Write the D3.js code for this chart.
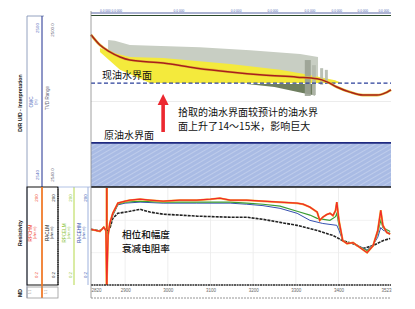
<!DOCTYPE html>
<html>
<head>
<meta charset="utf-8">
<script src="https://cdn.jsdelivr.net/npm/d3@7"></script>
<style>
  body { margin: 0; background: #fff; }
  svg { display: block; font-family: "Liberation Sans", Arial, sans-serif; }
  .cjk { font-family: "Noto Sans CJK SC", sans-serif; }
</style>
</head>
<body>
<div id="chart"></div>
<script>
// depth ticks (MD, m)
const depthTicks = [2820, 2900, 3000, 3100, 3200, 3300, 3400, 3523];
// positions of the small header labels (MD)
const headerMarks = [2867, 3026, 3160, 3246, 3333, 3396, 3457, 3506];

// well trajectory [MD, TVD]
const trajectory = [
  [2820, 2504.4], [2841, 2506.8], [2864, 2508.4], [2888, 2509.6], [2911, 2510.3],
  [2989, 2511.0], [3068, 2512.2], [3146, 2513.1], [3223, 2513.8], [3303, 2514.3],
  [3350, 2514.7], [3373, 2515.4], [3396, 2516.6], [3427, 2517.8], [3457, 2518.5],
  [3490, 2518.5], [3514, 2517.8], [3523, 2517.3]
];

const owcNow = 2515.7;
const owcOld = 2529.7;

// uncertainty band (gray) outline
const grayBand = [
  [2860, 2505.6], [2876, 2505.8], [2911, 2506.8], [3075, 2507.3], [3193, 2508.0],
  [3310, 2508.9], [3352, 2509.6], [3352, 2515.7], [2958, 2515.7], [2860, 2508.2]
];
// oil zone (yellow) outline
const oilZone = [
  [2841, 2507.5], [2864, 2508.4], [2911, 2509.6], [2989, 2509.8], [3146, 2511.2],
  [3263, 2512.6], [3333, 2513.8], [3392, 2515.0], [3408, 2515.7],
  [2958, 2515.7], [2888, 2512.6], [2841, 2508.4]
];
// darker band below the new OWC
const waterBand = [
  [3185, 2515.9], [3345, 2515.9], [3345, 2518.6], [3310, 2517.9], [3250, 2516.6]
];
// vertical bars [MD from, MD to, TVD top, TVD bottom]
const bars = [
  [3321, 3335, 2510.3, 2518.7],
  [3338, 3347, 2511.5, 2518.5],
  [3357, 3364, 2512.2, 2516.1],
  [3368, 3375, 2512.6, 2515.7]
];

// resistivity curves [MD, ohm.m]
const rpchm = [
  [2820,10.5],[2841,9.1],[2850,12.1],[2855,9.7],[2857,0.21],[2860,6.8],[2864,16],[2871,33],
  [2883,68],[2900,78],[2911,84],[2935,90],[2958,84],[2989,78],[3028,84],[3068,84],[3100,90],
  [3122,97],[3146,84],[3185,84],[3223,78],[3263,73],[3303,68],[3317,63],[3333,51],[3350,36],
  [3356,20],[3363,25],[3372,30],[3380,33],[3387,28],[3393,40],[3396,73],[3401,20],[3410,4.7],
  [3420,3.8],[3434,4.1],[3450,2.9],[3467,2.0],[3481,3.3],[3492,9.7],[3499,41],[3504,14],
  [3513,8.4],[3521,7.5]
];
const rpcelm = [
  [2820,10.5],[2841,9.1],[2850,12.1],[2855,9.7],[2860,7.5],[2864,15],[2871,30],[2883,63],
  [2900,73],[2935,78],[2989,73],[3068,73],[3146,73],[3185,68],[3223,63],[3263,55],[3303,38],
  [3333,29],[3350,23],[3380,20],[3393,26],[3396,33],[3401,14],[3410,4.7],[3420,3.9],[3434,4.1],
  [3450,3],[3467,2.3],[3481,3.3],[3492,8],[3499,20],[3504,12],[3521,9]
];
const racehm = [
  [2820,10.5],[2841,9.1],[2850,12.1],[2855,9.7],[2860,7.5],[2864,14],[2871,28],[2883,60],
  [2900,68],[2935,73],[2989,68],[3068,68],[3146,68],[3185,63],[3223,57],[3263,47],[3303,33],
  [3333,20],[3363,16],[3396,14],[3401,10],[3410,4.7],[3420,3.9],[3434,4.0],[3450,3.1],
  [3467,2.4],[3481,3.5],[3492,6],[3499,12],[3504,10],[3521,8]
];
const raclm = [
  [2820,10.5],[2841,9.5],[2850,12],[2857,9],[2864,11],[2871,23],[2883,33],[2911,38],[2935,44],
  [2958,36],[2989,31],[3028,29],[3068,27],[3146,25],[3185,25],[3223,21.5],[3263,17.3],
  [3303,14],[3350,9.7],[3387,6.8],[3410,4.7],[3434,3.8],[3457,2.7],[3481,3.3],[3504,4.7],
  [3521,5.5]
];
const markerMd = 2857;

const resHeaders = [
  {name: "RPCHM",  color: "#f0402a", x: 32},
  {name: "RACLM",  color: "#222",    x: 49},
  {name: "RPCELM", color: "#8cc43a", x: 66},
  {name: "RACEHM", color: "#3a55b0", x: 81}
];

const W = 415, H = 309;
const dim = {left: 91, right: 391, top: 16, owcBottom: 187, resTop: 188, resBottom: 285};

const svg = d3.select("#chart").append("svg")
  .attr("width", W).attr("height", H);

const defs = svg.append("defs");
const pat = defs.append("pattern").attr("id", "hatch")
  .attr("width", 4).attr("height", 4)
  .attr("patternUnits", "userSpaceOnUse")
  .attr("patternTransform", "rotate(60)");
pat.append("rect").attr("width", 4).attr("height", 4).attr("fill", "#a9bbe4");
pat.append("line").attr("x1", 0).attr("y1", 0).attr("x2", 0).attr("y2", 4)
  .attr("stroke", "#d3ddf3").attr("stroke-width", 1);

const x = d3.scaleLinear([2820, 3523], [dim.left, dim.right]);
const tvd = d3.scaleLinear([2500, 2540], [dim.top, dim.owcBottom]);
const res = d3.scaleLog([0.2, 200], [dim.resBottom, dim.resTop]);

// ---- top interpretation track ----
const interp = svg.append("g").attr("class", "interp");

interp.append("line")
  .attr("x1", dim.left).attr("x2", dim.right)
  .attr("y1", tvd(2520)).attr("y2", tvd(2520))
  .attr("stroke", "#e4e4e4").attr("stroke-width", 0.7);

const area = d3.line().x(d => x(d[0])).y(d => tvd(d[1])).curve(d3.curveLinearClosed);

interp.append("path").attr("d", area(grayBand)).attr("fill", "#c8cec3");
interp.append("path").attr("d", area(oilZone)).attr("fill", "#f4ea3c");
interp.append("path").attr("d", area(waterBand)).attr("fill", "#6e7e5f");
interp.selectAll("rect.bar").data(bars).join("rect")
  .attr("class", "bar")
  .attr("x", d => x(d[0])).attr("width", d => x(d[1]) - x(d[0]))
  .attr("y", d => tvd(d[2])).attr("height", d => tvd(d[3]) - tvd(d[2]))
  .attr("fill", (d, i) => i === 0 ? "#9aa294" : "#b3b9ad")
  .attr("opacity", 0.9);

// new OWC dashed
interp.append("line")
  .attr("x1", dim.left).attr("x2", dim.right)
  .attr("y1", tvd(owcNow)).attr("y2", tvd(owcNow))
  .attr("stroke", "#2a3f9a").attr("stroke-width", 1.4)
  .attr("stroke-dasharray", "4,2.5");

// trajectory
const traj = d3.line().x(d => x(d[0])).y(d => tvd(d[1])).curve(d3.curveMonotoneX);
interp.append("path").attr("d", traj(trajectory))
  .attr("fill", "none").attr("stroke", "#e8c23a").attr("stroke-width", 2.6);
interp.append("path").attr("d", traj(trajectory))
  .attr("fill", "none").attr("stroke", "#a8201c").attr("stroke-width", 1.5);

// original OWC and water zone
interp.append("rect")
  .attr("x", dim.left).attr("width", dim.right - dim.left)
  .attr("y", tvd(owcOld)).attr("height", tvd(2540) - tvd(owcOld))
  .attr("fill", "url(#hatch)");
interp.append("line")
  .attr("x1", dim.left).attr("x2", dim.right)
  .attr("y1", tvd(owcOld)).attr("y2", tvd(owcOld))
  .attr("stroke", "#1f2a80").attr("stroke-width", 1.8);
interp.append("line")
  .attr("x1", dim.left).attr("x2", dim.right)
  .attr("y1", tvd(2540)).attr("y2", tvd(2540))
  .attr("stroke", "#111").attr("stroke-width", 1.4);

// header lines over the track
interp.append("line").attr("x1", dim.left).attr("x2", dim.right)
  .attr("y1", 13).attr("y2", 13).attr("stroke", "#2c3e8c").attr("stroke-width", 0.8);
interp.append("line").attr("x1", dim.left).attr("x2", dim.right)
  .attr("y1", 15.5).attr("y2", 15.5).attr("stroke", "#2d4a2d").attr("stroke-width", 1.2);
interp.selectAll("text.hdr").data(headerMarks)
  .join("text").attr("class", "hdr")
  .attr("x", d => x(d)).attr("y", 12)
  .attr("text-anchor", "middle").attr("font-size", 3.2).attr("fill", "#4a5fb0")
  .text((d, i) => i === 0 ? "0.0 000 0.0 000" : "0.0 000");

// annotations
interp.append("text").attr("class", "cjk")
  .attr("x", 102).attr("y", tvd(owcNow) - 4.5)
  .attr("font-size", 10).attr("fill", "#111").text("现油水界面");
interp.append("text").attr("class", "cjk")
  .attr("x", 104).attr("y", tvd(owcOld) - 3.5)
  .attr("font-size", 10).attr("fill", "#111").text("原油水界面");

const arrowX = x(2989);
interp.append("rect").attr("x", arrowX - 1.8).attr("y", 103).attr("width", 3.6).attr("height", 29)
  .attr("fill", "#ec2830");
interp.append("path")
  .attr("d", `M${arrowX - 5.5},105 L${arrowX},94 L${arrowX + 5.5},105 Z`)
  .attr("fill", "#ec2830");

const noteLines = ["拾取的油水界面较预计的油水界", "面上升了14～15米，影响巨大"];
interp.selectAll("text.note").data(noteLines).join("text")
  .attr("class", "cjk note")
  .attr("x", 178).attr("y", (d, i) => 116 + i * 13.8)
  .attr("font-size", 10).attr("fill", "#111")
  .text(d => d);

// ---- resistivity track ----
const rt = svg.append("g").attr("class", "res");
rt.selectAll("line.vg").data(depthTicks.slice(1, -1)).join("line")
  .attr("class", "vg")
  .attr("x1", d => x(d)).attr("x2", d => x(d))
  .attr("y1", dim.resTop).attr("y2", dim.resBottom)
  .attr("stroke", "#e6e6e6").attr("stroke-width", 0.7);
rt.selectAll("line.hg").data([2, 20]).join("line")
  .attr("class", "hg")
  .attr("x1", dim.left).attr("x2", dim.right)
  .attr("y1", d => res(d)).attr("y2", d => res(d))
  .attr("stroke", "#ededed").attr("stroke-width", 0.7);

rt.append("line")
  .attr("x1", x(markerMd)).attr("x2", x(markerMd))
  .attr("y1", dim.resTop).attr("y2", dim.resBottom)
  .attr("stroke", "#f0a020").attr("stroke-width", 2.4);
rt.append("line")
  .attr("x1", x(markerMd)).attr("x2", x(markerMd))
  .attr("y1", dim.resTop).attr("y2", dim.resBottom)
  .attr("stroke", "#e8202a").attr("stroke-width", 1.2);

const resLine = d3.line().x(d => x(d[0])).y(d => res(d[1]));
rt.append("path").attr("d", resLine(raclm))
  .attr("fill", "none").attr("stroke", "#222").attr("stroke-width", 1.6)
  .attr("stroke-dasharray", "3,1");
rt.append("path").attr("d", resLine(racehm))
  .attr("fill", "none").attr("stroke", "#3550b0").attr("stroke-width", 1);
rt.append("path").attr("d", resLine(rpcelm))
  .attr("fill", "none").attr("stroke", "#3a9d32").attr("stroke-width", 1.1);
rt.append("path").attr("d", resLine(rpchm))
  .attr("fill", "none").attr("stroke", "#f5b030").attr("stroke-width", 2);
rt.append("path").attr("d", resLine(rpchm))
  .attr("fill", "none").attr("stroke", "#f02a2a").attr("stroke-width", 1.3);

const resNote = ["相位和幅度", "衰减电阻率"];
rt.selectAll("text.rnote").data(resNote).join("text")
  .attr("class", "cjk rnote")
  .attr("x", 122).attr("y", (d, i) => 238 + i * 13.8)
  .attr("font-size", 9.6).attr("fill", "#111").attr("font-weight", 500)
  .text(d => d);

rt.append("line").attr("x1", dim.left).attr("x2", dim.right)
  .attr("y1", dim.resBottom).attr("y2", dim.resBottom)
  .attr("stroke", "#2a2a2a").attr("stroke-width", 1.3).attr("stroke-dasharray", "2,0.6");

// depth axis
const axis = svg.append("g")
  .attr("transform", `translate(0 ${dim.resBottom})`)
  .call(d3.axisBottom(x).tickValues(depthTicks).tickSize(0).tickPadding(4).tickFormat(d3.format("d")));
axis.select(".domain").remove();
axis.selectAll("text").attr("font-size", 4.5).attr("fill", "#666")
  .attr("font-family", "Liberation Sans, Arial, sans-serif")
  .attr("text-anchor", (d, i) => i === 0 ? "start" : i === depthTicks.length - 1 ? "end" : "middle");
svg.append("line").attr("x1", dim.left).attr("x2", dim.right)
  .attr("y1", 298).attr("y2", 298)
  .attr("stroke", "#888").attr("stroke-width", 0.9).attr("stroke-dasharray", "2,1");

// left frame of track
svg.append("line").attr("x1", dim.left).attr("x2", dim.left)
  .attr("y1", 11).attr("y2", 298).attr("stroke", "#888").attr("stroke-width", 0.8);

// ---- left header panel ----
const hp = svg.append("g").attr("class", "header");
function vtext(xp, yp, txt, size, color, weight) {
  hp.append("text")
    .attr("transform", `translate(${xp} ${yp}) rotate(-90)`)
    .attr("text-anchor", "middle").attr("font-size", size)
    .attr("fill", color).attr("font-weight", weight || "normal")
    .text(txt);
}
// interpretation header
hp.append("line").attr("x1", 27).attr("x2", 27).attr("y1", 16).attr("y2", 298).attr("stroke", "#7a8ab0").attr("stroke-width", 0.8);
hp.append("line").attr("x1", 27).attr("x2", 44).attr("y1", 16).attr("y2", 16).attr("stroke", "#7a8ab0").attr("stroke-width", 0.8);
hp.append("line").attr("x1", 42).attr("x2", 42).attr("y1", 16).attr("y2", 187).attr("stroke", "#1f2f90").attr("stroke-width", 1);
vtext(22, 103, "D/R U/D - Interpretation", 5.2, "#111", "bold");
vtext(33, 102, "OWC", 4.6, "#5a70c0");
vtext(37, 102, "(m)", 3.6, "#5a70c0");
vtext(38.5, 28, "2500", 4.4, "#5a70c0");
vtext(38.5, 175, "2540", 4.4, "#5a70c0");
vtext(49, 98, "TVD Range", 4.6, "#667");
vtext(54, 30, "2500.0", 4.4, "#667");
vtext(54, 175, "2540.0", 4.4, "#667");

// resistivity header
hp.append("rect").attr("x", 27).attr("y", 187).attr("width", 31).attr("height", 98)
  .attr("fill", "none").attr("stroke", "#111").attr("stroke-width", 1);
hp.append("line").attr("x1", 58).attr("x2", 58).attr("y1", 187).attr("y2", 285)
  .attr("stroke", "#111").attr("stroke-width", 1.2).attr("stroke-dasharray", "1.2,1");
hp.append("line").attr("x1", 42).attr("x2", 42).attr("y1", 187).attr("y2", 298)
  .attr("stroke", "#f0a020").attr("stroke-width", 1.6);
hp.append("line").attr("x1", 42).attr("x2", 42).attr("y1", 187).attr("y2", 298)
  .attr("stroke", "#f03a2a").attr("stroke-width", 0.7);
hp.append("line").attr("x1", 74).attr("x2", 74).attr("y1", 187).attr("y2", 285)
  .attr("stroke", "#b5d84a").attr("stroke-width", 1);
hp.append("line").attr("x1", 88).attr("x2", 88).attr("y1", 187).attr("y2", 285)
  .attr("stroke", "#9fb2dd").attr("stroke-width", 1);
hp.append("line").attr("x1", 58).attr("x2", 91).attr("y1", 187).attr("y2", 187)
  .attr("stroke", "#9fb2dd").attr("stroke-width", 0.8);
vtext(22, 233, "Resistivity", 5.2, "#111", "bold");
resHeaders.forEach(h => {
  vtext(h.x, 233, h.name, 4.6, h.color);
  vtext(h.x + 3.6, 233, "(ohm.m)", 3.4, h.color);
  vtext(h.x + 5.5, 198, "200", 4.4, h.color);
  vtext(h.x + 5.5, 275, "0.2", 4.4, h.color);
});

// MD header
hp.append("rect").attr("x", 27).attr("y", 287).attr("width", 31).attr("height", 11)
  .attr("fill", "none").attr("stroke", "#999").attr("stroke-width", 0.8);
vtext(22, 293, "MD", 5.2, "#111", "bold");
vtext(31, 292, "1:1", 3, "#888");
vtext(47, 292, "1:1", 3, "#888");
</script>
</body>
</html>
